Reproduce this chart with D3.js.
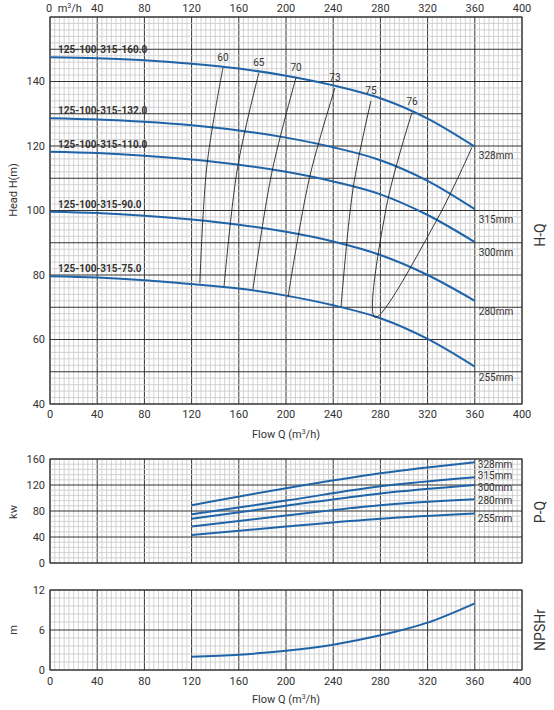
<!DOCTYPE html>
<html><head><meta charset="utf-8">
<script src="https://cdn.jsdelivr.net/npm/d3@7"></script>
<style>body{margin:0;background:#fff}text{font-family:Roboto,sans-serif;fill:#333}</style>
</head><body><main></main>
<script>
// H-Q curves by impeller diameter
const flowH = [0, 40, 80, 120, 160, 200, 240, 280, 320, 360];
const diameters = ["328mm", "315mm", "300mm", "280mm", "255mm"];
const modelNames = ["125-100-315-160.0", "125-100-315-132.0", "125-100-315-110.0", "125-100-315-90.0", "125-100-315-75.0"];
const head = [
  [147.5, 147.2, 146.6, 145.5, 144, 141.8, 138.8, 134.8, 128.5, 119.8],
  [128.6, 128.2, 127.5, 126.4, 124.8, 122.6, 119.6, 115.6, 109.2, 100.4],
  [118.2, 117.8, 117.0, 115.8, 114.2, 112.0, 109.0, 105.0, 98.6, 90.2],
  [99.6, 99.2, 98.4, 97.2, 95.6, 93.4, 90.4, 86.2, 80.0, 72.0],
  [79.6, 79.2, 78.4, 77.2, 75.8, 73.6, 70.6, 66.6, 60.2, 51.6]
];
// efficiency iso-lines [Q, H]
const effLabels = ["60", "65", "70", "73", "75", "76"];
const effLines = [
  [[127, 77.4], [133, 114], [146.6, 144.3]],
  [[147.5, 76.5], [159, 113.4], [177, 142.7]],
  [[172, 75.6], [188, 111.8], [208.5, 141.2]],
  [[201.7, 73.1], [220, 110.3], [241.5, 138]],
  [[246.6, 70], [257, 107.2], [272, 134]],
  [[306.8, 130.4], [285, 101], [275.4, 66.9], [327.7, 97], [357.6, 119.6]]
];
// P-Q
const flowP = [120, 200, 280, 360];
const power = [
  [89, 115, 138, 155],
  [75, 96, 118, 132],
  [68, 88, 107, 120],
  [56, 73, 89, 98],
  [43, 56, 68, 76]
];
// NPSHr
const flowN = [120, 160, 200, 240, 280, 320, 360];
const npsh = [2.0, 2.3, 2.9, 3.8, 5.2, 7.1, 10.0];

const W = 554, H = 710, left = 50, right = 522;
const blue = "#1f63a8";
const svg = d3.select("main").append("svg").attr("width", W).attr("height", H);
const x = d3.scaleLinear().domain([0, 400]).range([left, right]);

let grid = (g, y, xStep, yMinor, yMajor) => {
  d3.range(0, 400.01, xStep).forEach(v => g.append("line")
    .attr("x1", x(v)).attr("x2", x(v)).attr("y1", y.range()[0]).attr("y2", y.range()[1])
    .attr("stroke", v % 40 === 0 ? "#333" : "#c8c8c8").attr("stroke-width", v % 40 === 0 ? 1 : 0.8));
  const [a, b] = y.domain();
  d3.range(a, b + 0.001, yMinor).forEach(v => {
    const major = Math.abs(v / yMajor - Math.round(v / yMajor)) < 1e-6;
    g.append("line").attr("x1", left).attr("x2", right).attr("y1", y(v)).attr("y2", y(v))
      .attr("stroke", major ? "#333" : "#c8c8c8").attr("stroke-width", major ? 1 : 0.8);
  });
  g.append("rect").attr("x", left).attr("y", y.range()[1]).attr("width", right - left)
    .attr("height", y.range()[0] - y.range()[1]).attr("fill", "none").attr("stroke", "#333");
};

let xAxisText = (yPos, ticks) => {
  ticks.forEach(v => svg.append("text").attr("x", x(v)).attr("y", yPos)
    .attr("text-anchor", "middle").attr("font-size", 11).text(v));
};
let yAxisText = (y, ticks) => {
  ticks.forEach(v => svg.append("text").attr("x", left - 5).attr("y", y(v)).attr("dy", "0.35em")
    .attr("text-anchor", "end").attr("font-size", 11).text(v));
};
let sideTitle = (txt, yPos) => svg.append("text")
  .attr("transform", `translate(545,${yPos}) rotate(-90)`).attr("text-anchor", "middle")
  .attr("font-size", 14).text(txt);
let yTitle = (txt, yPos) => svg.append("text")
  .attr("transform", `translate(17,${yPos}) rotate(-90)`).attr("text-anchor", "middle")
  .attr("font-size", 11).text(txt);

// ---- H-Q panel
const yH = d3.scaleLinear().domain([40, 160]).range([404, 17]);
grid(svg.append("g"), yH, 4, 2, 10);
yAxisText(yH, [40, 60, 80, 100, 120, 140]);
xAxisText(418, d3.range(0, 401, 40));
[40, 80, 120, 160, 200, 240, 280, 320, 360, 400].forEach(v => svg.append("text")
  .attr("x", x(v)).attr("y", 12).attr("text-anchor", "middle").attr("font-size", 11).text(v));
svg.append("text").attr("x", 46).attr("y", 12).attr("font-size", 11).html("0&#160;&#160;m<tspan dy='-4' font-size='7'>3</tspan><tspan dy='4'>/h</tspan>");
svg.append("text").attr("x", x(200)).attr("y", 438).attr("text-anchor", "middle").attr("font-size", 11)
  .html("Flow Q (m<tspan dy='-4' font-size='7'>3</tspan><tspan dy='4'>/h)</tspan>");
yTitle("Head H(m)", 190);
sideTitle("H-Q", 235);

const lineH = d3.line().x(d => x(d[0])).y(d => yH(d[1])).curve(d3.curveMonotoneX);
head.forEach((hs, i) => {
  svg.append("path").datum(flowH.map((q, j) => [q, hs[j]])).attr("d", lineH)
    .attr("fill", "none").attr("stroke", blue).attr("stroke-width", 2);
  svg.append("text").attr("x", x(360) + 4).attr("y", yH(hs[hs.length - 1]) + (i === 0 ? 12 : 14))
    .attr("font-size", 10).text(diameters[i]);
  svg.append("text").attr("x", 58).attr("y", yH(hs[0]) - 4).attr("font-size", 10)
    .attr("font-weight", "bold").text(modelNames[i]);
});
const lineE = d3.line().x(d => x(d[0])).y(d => yH(d[1])).curve(d3.curveCatmullRom);
effLines.forEach((pts, i) => {
  svg.append("path").datum(pts).attr("d", lineE).attr("fill", "none")
    .attr("stroke", "#222").attr("stroke-width", 0.9);
  const top = pts[pts.length === 5 ? 0 : 2];
  svg.append("text").attr("x", x(top[0])).attr("y", yH(top[1]) - 7).attr("text-anchor", "middle")
    .attr("font-size", 10).text(effLabels[i]);
});

// ---- P-Q panel
const yP = d3.scaleLinear().domain([0, 160]).range([563, 459]);
grid(svg.append("g"), yP, 4, 8, 40);
yAxisText(yP, [0, 40, 80, 120, 160]);
yTitle("kw", 512);
sideTitle("P-Q", 512);
const lineP = d3.line().x(d => x(d[0])).y(d => yP(d[1])).curve(d3.curveMonotoneX);
const pLabelY = [152, 134, 116, 96, 68];
power.forEach((ps, i) => {
  svg.append("path").datum(flowP.map((q, j) => [q, ps[j]])).attr("d", lineP)
    .attr("fill", "none").attr("stroke", blue).attr("stroke-width", 2);
  svg.append("text").attr("x", x(360) + 3).attr("y", yP(pLabelY[i])).attr("dy", "0.35em")
    .attr("font-size", 10).text(diameters[i]);
});

// ---- NPSHr panel
const yN = d3.scaleLinear().domain([0, 12]).range([670, 590]);
grid(svg.append("g"), yN, 4, 1.2, 6);
yAxisText(yN, [0, 6, 12]);
xAxisText(685, d3.range(0, 401, 40));
svg.append("text").attr("x", x(200)).attr("y", 703).attr("text-anchor", "middle").attr("font-size", 11)
  .html("Flow Q (m<tspan dy='-4' font-size='7'>3</tspan><tspan dy='4'>/h)</tspan>");
yTitle("m", 630);
sideTitle("NPSHr", 630);
svg.append("path").datum(flowN.map((q, j) => [q, npsh[j]]))
  .attr("d", d3.line().x(d => x(d[0])).y(d => yN(d[1])).curve(d3.curveMonotoneX))
  .attr("fill", "none").attr("stroke", blue).attr("stroke-width", 2);
</script></body></html>
